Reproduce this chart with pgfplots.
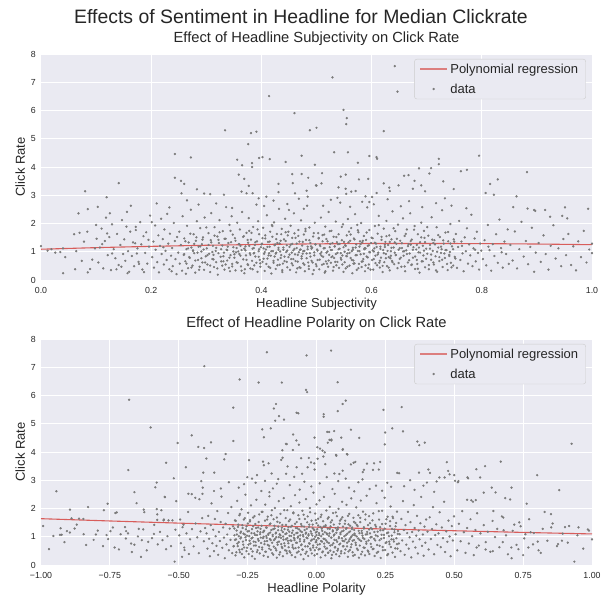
\documentclass[border=0pt]{standalone}
\usepackage{fontspec}
\setmainfont{Liberation Sans}
\usepackage{pgfplots}
\usepackage{pgfplotstable}
\pgfplotsset{compat=1.18}

\definecolor{sbbg}{HTML}{EAEAF2}
\definecolor{sbtext}{HTML}{262626}
\definecolor{ptgray}{HTML}{7A7A7A}
\definecolor{regred}{HTML}{D64541}
\definecolor{legdraw}{HTML}{CCCCCC}

% subjectivity vs click rate
\pgfplotstableread[row sep=\\]{
x y\\
0.529 7.17\\ 0.642 7.57\\ 0.414 6.51\\ 0.647 6.67\\ 0.460 5.91\\ 0.549 6.02\\ 0.555 5.73\\ 0.554 5.52\\
0.334 5.30\\ 0.381 5.20\\ 0.391 5.25\\ 0.488 5.30\\ 0.500 5.39\\ 0.622 5.27\\ 0.376 4.81\\ 0.356 4.26\\
0.365 4.06\\ 0.383 4.14\\ 0.383 4.00\\ 0.396 4.32\\ 0.402 4.35\\ 0.415 4.28\\ 0.444 4.18\\ 0.473 4.40\\
0.497 4.08\\ 0.532 4.52\\ 0.557 4.52\\ 0.575 4.15\\ 0.596 4.39\\ 0.609 4.35\\ 0.610 4.29\\ 0.686 3.95\\
0.708 3.96\\ 0.722 4.29\\ 0.722 4.10\\ 0.243 4.46\\ 0.272 4.34\\ 0.243 3.62\\ 0.254 3.51\\ 0.260 3.40\\
0.141 3.43\\ 0.080 3.14\\ 0.119 2.93\\ 0.283 3.21\\ 0.255 3.07\\ 0.296 3.06\\ 0.307 3.04\\ 0.332 3.02\\
0.359 3.73\\ 0.369 3.58\\ 0.377 3.33\\ 0.364 3.13\\ 0.373 3.07\\ 0.384 3.07\\ 0.395 2.89\\ 0.409 2.95\\
0.431 3.40\\ 0.431 3.11\\ 0.457 3.43\\ 0.461 3.07\\ 0.456 3.75\\ 0.473 3.75\\ 0.482 3.16\\ 0.485 3.62\\
0.499 3.35\\ 0.484 2.95\\ 0.795 4.40\\ 0.510 3.78\\ 0.544 3.66\\ 0.553 3.73\\ 0.500 3.34\\ 0.509 3.42\\
0.540 3.28\\ 0.553 3.23\\ 0.554 3.05\\ 0.563 3.13\\ 0.571 3.15\\ 0.577 3.56\\ 0.594 3.58\\ 0.589 2.96\\
0.596 2.76\\ 0.601 2.94\\ 0.609 3.08\\ 0.622 3.42\\ 0.632 3.27\\ 0.633 3.15\\ 0.649 3.35\\ 0.659 3.69\\
0.667 3.71\\ 0.675 3.23\\ 0.678 3.51\\ 0.690 3.35\\ 0.697 3.14\\ 0.705 3.77\\ 0.730 3.49\\ 0.733 2.89\\
0.749 3.22\\ 0.762 3.85\\ 0.773 3.90\\ 0.807 3.08\\ 0.815 3.40\\ 0.822 3.02\\ 0.829 3.56\\ 0.863 2.96\\
0.882 3.82\\ 0.883 2.53\\ 0.895 2.48\\ 0.897 2.45\\ 0.915 2.48\\ 0.924 2.24\\ 0.946 2.27\\ 0.951 2.57\\
0.955 2.18\\ 0.993 2.52\\ 0.857 2.58\\
0.318 2.71\\ 0.347 2.55\\ 0.405 2.62\\ 0.422 2.81\\ 0.447 2.69\\ 0.468 2.88\\ 0.512 2.63\\ 0.526 2.84\\
0.561 2.59\\ 0.583 2.77\\ 0.604 2.68\\ 0.629 2.86\\ 0.653 2.61\\ 0.668 2.79\\ 0.692 2.58\\ 0.717 2.72\\
0.745 2.63\\ 0.772 2.54\\ 0.286 2.67\\ 0.265 2.82\\ 0.233 2.57\\ 0.538 2.91\\ 0.477 2.52\\
0.000 1.20\\ 0.012 1.04\\ 0.019 1.09\\ 0.026 0.97\\ 0.035 0.99\\ 0.040 0.24\\ 0.044 0.81\\ 0.040 1.12\\
0.060 1.62\\ 0.062 0.38\\ 0.068 2.36\\ 0.070 1.67\\ 0.074 0.68\\ 0.078 1.36\\ 0.084 1.71\\ 0.085 0.27\\
0.085 2.51\\ 0.089 0.39\\ 0.098 1.12\\ 0.100 1.95\\ 0.101 1.46\\ 0.103 2.59\\ 0.064 1.02\\ 0.093 0.72\\
0.104 0.62\\ 0.107 1.15\\ 0.110 1.82\\ 0.113 0.41\\ 0.116 1.38\\ 0.118 2.21\\ 0.121 0.88\\ 0.124 1.52\\
0.127 0.35\\ 0.129 1.97\\ 0.132 1.09\\ 0.138 1.63\\ 0.141 0.53\\ 0.144 1.24\\ 0.147 2.12\\ 0.149 0.92\\
0.111 1.27\\ 0.120 1.65\\ 0.129 0.94\\ 0.135 0.77\\ 0.137 0.38\\ 0.146 0.47\\ 0.125 2.36\\
0.151 1.44\\ 0.153 0.68\\ 0.156 2.41\\ 0.158 1.02\\ 0.160 0.29\\ 0.162 1.71\\ 0.165 0.85\\ 0.167 1.33\\
0.169 0.49\\ 0.172 1.88\\ 0.175 1.12\\ 0.177 0.64\\ 0.180 2.05\\ 0.182 1.26\\ 0.184 0.37\\ 0.186 1.55\\
0.189 0.96\\ 0.191 1.69\\ 0.193 0.58\\ 0.196 1.18\\ 0.198 2.28\\ 0.157 0.24\\ 0.155 1.89\\ 0.171 1.30\\
0.174 0.94\\ 0.178 0.57\\ 0.187 0.28\\ 0.172 1.77\\ 0.195 1.42\\ 0.163 2.63\\
0.201 2.05\\ 0.210 2.71\\ 0.202 0.81\\ 0.204 1.36\\ 0.205 0.44\\ 0.207 1.93\\ 0.208 1.07\\ 0.211 0.63\\
0.213 1.58\\ 0.214 0.27\\ 0.216 1.21\\ 0.218 2.17\\ 0.219 0.92\\ 0.221 1.45\\ 0.223 0.55\\ 0.224 1.79\\
0.226 1.03\\ 0.228 0.71\\ 0.229 2.34\\ 0.231 1.29\\ 0.233 0.38\\ 0.234 1.64\\ 0.236 0.86\\ 0.238 1.13\\
0.239 0.49\\ 0.241 2.02\\ 0.243 1.38\\ 0.244 0.74\\ 0.246 0.21\\ 0.247 1.52\\ 0.249 0.97\\ 0.222 1.16\\
0.237 0.31\\
0.251 1.71\\ 0.252 0.58\\ 0.254 1.24\\ 0.256 0.33\\ 0.257 2.26\\ 0.259 0.89\\ 0.260 1.47\\ 0.262 0.66\\
0.264 1.09\\ 0.265 1.92\\ 0.267 0.42\\ 0.268 1.33\\ 0.270 0.78\\ 0.272 2.49\\ 0.273 1.15\\ 0.275 0.51\\
0.277 1.62\\ 0.278 0.95\\ 0.280 0.26\\ 0.281 1.39\\ 0.283 2.08\\ 0.285 0.71\\ 0.286 1.18\\ 0.288 0.47\\
0.289 1.84\\ 0.291 1.01\\ 0.293 0.62\\ 0.294 1.51\\ 0.296 0.36\\ 0.297 2.21\\ 0.299 0.84\\ 0.263 0.22\\
0.276 1.05\\ 0.292 1.27\\
0.301 1.12\\ 0.302 0.55\\ 0.304 1.66\\ 0.305 0.93\\ 0.307 0.28\\ 0.308 1.41\\ 0.309 2.37\\ 0.311 0.74\\
0.312 1.21\\ 0.314 0.46\\ 0.315 1.87\\ 0.317 1.03\\ 0.318 0.63\\ 0.320 1.54\\ 0.321 0.19\\ 0.323 1.31\\
0.324 2.12\\ 0.326 0.82\\ 0.327 1.09\\ 0.329 0.51\\ 0.330 1.73\\ 0.332 0.97\\ 0.333 0.37\\ 0.335 1.46\\
0.336 2.58\\ 0.338 0.69\\ 0.339 1.18\\ 0.341 0.43\\ 0.342 1.95\\ 0.344 0.88\\ 0.345 1.34\\ 0.347 0.57\\
0.348 1.61\\ 0.349 1.01\\ 0.313 0.89\\ 0.322 1.42\\ 0.331 0.66\\ 0.337 1.07\\ 0.343 0.31\\ 0.346 2.26\\
0.351 0.79\\ 0.352 1.48\\ 0.353 0.34\\ 0.355 1.13\\ 0.356 2.03\\ 0.357 0.61\\ 0.359 1.27\\ 0.360 0.92\\
0.361 1.79\\ 0.363 0.48\\ 0.364 1.06\\ 0.365 2.41\\ 0.367 0.73\\ 0.368 1.55\\ 0.369 0.24\\ 0.371 1.19\\
0.372 0.87\\ 0.373 1.67\\ 0.375 0.56\\ 0.376 1.32\\ 0.377 2.19\\ 0.379 0.95\\ 0.380 0.41\\ 0.381 1.43\\
0.383 0.68\\ 0.384 1.11\\ 0.385 1.88\\ 0.387 0.52\\ 0.388 1.24\\ 0.389 0.83\\ 0.391 2.67\\ 0.392 1.37\\
0.393 0.29\\ 0.395 1.02\\ 0.396 1.62\\ 0.397 0.71\\ 0.399 1.16\\ 0.354 0.98\\ 0.362 1.21\\ 0.370 0.38\\
0.378 1.74\\ 0.386 0.94\\ 0.394 2.08\\ 0.398 0.59\\
0.401 1.29\\ 0.402 0.64\\ 0.403 1.85\\ 0.405 0.93\\ 0.406 0.32\\ 0.407 1.47\\ 0.408 1.08\\ 0.410 2.29\\
0.411 0.76\\ 0.412 1.35\\ 0.413 0.47\\ 0.415 1.18\\ 0.416 1.71\\ 0.417 0.86\\ 0.418 0.23\\ 0.420 1.53\\
0.421 1.02\\ 0.422 0.61\\ 0.423 2.04\\ 0.425 1.26\\ 0.426 0.39\\ 0.427 0.97\\ 0.428 1.63\\ 0.430 0.72\\
0.431 1.14\\ 0.432 2.52\\ 0.433 0.54\\ 0.435 1.39\\ 0.436 0.88\\ 0.437 1.81\\ 0.438 0.28\\ 0.440 1.07\\
0.441 1.44\\ 0.442 0.67\\ 0.443 2.17\\ 0.445 0.99\\ 0.446 1.23\\ 0.447 0.45\\ 0.448 1.58\\ 0.449 0.81\\
0.404 1.12\\ 0.414 0.95\\ 0.424 0.83\\ 0.429 1.31\\ 0.434 1.01\\ 0.439 0.58\\ 0.444 1.69\\ 0.419 1.95\\
0.451 1.17\\ 0.452 0.36\\ 0.453 1.92\\ 0.454 0.74\\ 0.456 1.28\\ 0.457 0.52\\ 0.458 1.05\\ 0.459 2.36\\
0.461 0.91\\ 0.462 1.49\\ 0.463 0.27\\ 0.464 1.13\\ 0.466 0.65\\ 0.467 1.77\\ 0.468 0.98\\ 0.469 1.36\\
0.471 0.43\\ 0.472 2.11\\ 0.473 0.84\\ 0.474 1.22\\ 0.476 0.59\\ 0.477 1.61\\ 0.478 1.03\\ 0.479 0.31\\
0.481 1.42\\ 0.482 0.77\\ 0.483 2.63\\ 0.484 1.09\\ 0.486 0.49\\ 0.487 1.86\\ 0.488 0.95\\ 0.489 1.31\\
0.491 0.68\\ 0.492 1.15\\ 0.493 0.21\\ 0.494 1.54\\ 0.496 0.87\\ 0.497 2.03\\ 0.498 1.26\\ 0.499 0.56\\
0.455 0.97\\ 0.460 1.65\\ 0.465 0.41\\ 0.470 1.07\\ 0.475 0.93\\ 0.480 1.73\\ 0.485 0.62\\ 0.490 1.19\\
0.495 0.35\\ 0.450 2.48\\
0.501 1.08\\ 0.502 0.71\\ 0.503 1.66\\ 0.505 0.38\\ 0.506 1.24\\ 0.507 0.93\\ 0.508 2.21\\ 0.510 0.54\\
0.511 1.37\\ 0.512 0.82\\ 0.513 1.12\\ 0.515 0.26\\ 0.516 1.89\\ 0.517 0.66\\ 0.518 1.45\\ 0.520 1.01\\
0.521 0.47\\ 0.522 2.41\\ 0.523 0.89\\ 0.525 1.28\\ 0.526 0.61\\ 0.527 1.74\\ 0.528 1.06\\ 0.530 0.33\\
0.531 1.53\\ 0.532 0.78\\ 0.533 1.19\\ 0.535 2.07\\ 0.536 0.52\\ 0.537 1.34\\ 0.538 0.96\\ 0.540 1.62\\
0.541 0.43\\ 0.542 1.11\\ 0.543 2.74\\ 0.545 0.72\\ 0.546 1.41\\ 0.547 0.87\\ 0.548 1.97\\ 0.549 0.29\\
0.504 1.49\\ 0.509 0.99\\ 0.514 1.61\\ 0.519 0.58\\ 0.524 1.16\\ 0.529 0.84\\ 0.534 0.64\\ 0.539 1.27\\
0.544 0.95\\ 0.550 1.35\\
0.551 0.63\\ 0.552 1.23\\ 0.553 0.41\\ 0.555 1.58\\ 0.556 0.94\\ 0.557 2.16\\ 0.558 1.07\\ 0.560 0.51\\
0.561 1.39\\ 0.562 0.78\\ 0.563 1.84\\ 0.565 0.24\\ 0.566 1.14\\ 0.567 0.69\\ 0.568 1.47\\ 0.570 2.33\\
0.571 0.88\\ 0.572 1.26\\ 0.573 0.36\\ 0.575 1.03\\ 0.576 1.69\\ 0.577 0.57\\ 0.578 1.18\\ 0.580 0.91\\
0.581 2.02\\ 0.582 0.46\\ 0.583 1.33\\ 0.585 0.74\\ 0.586 1.56\\ 0.587 1.09\\ 0.588 0.31\\ 0.590 1.42\\
0.591 0.83\\ 0.592 2.57\\ 0.593 1.21\\ 0.595 0.55\\ 0.596 1.77\\ 0.597 0.98\\ 0.599 1.31\\ 0.554 0.85\\
0.559 1.71\\ 0.564 1.02\\ 0.569 0.59\\ 0.574 1.95\\ 0.579 1.37\\ 0.584 0.66\\ 0.589 1.12\\ 0.594 0.42\\
0.601 0.71\\ 0.602 1.48\\ 0.603 0.37\\ 0.605 1.12\\ 0.606 1.91\\ 0.607 0.86\\ 0.608 1.29\\ 0.610 0.52\\
0.611 1.64\\ 0.612 0.97\\ 0.613 2.27\\ 0.615 0.44\\ 0.616 1.18\\ 0.617 0.79\\ 0.618 1.53\\ 0.620 0.28\\
0.621 1.06\\ 0.622 1.82\\ 0.623 0.63\\ 0.625 1.35\\ 0.626 0.92\\ 0.627 2.09\\ 0.628 0.49\\ 0.630 1.24\\
0.631 0.81\\ 0.632 1.58\\ 0.633 0.34\\ 0.635 1.02\\ 0.636 1.44\\ 0.637 0.68\\ 0.638 2.43\\ 0.640 1.15\\
0.641 0.56\\ 0.643 1.73\\ 0.644 0.89\\ 0.645 1.28\\ 0.647 0.42\\ 0.648 1.96\\ 0.649 1.07\\ 0.604 1.01\\
0.614 0.61\\ 0.624 1.17\\ 0.634 0.77\\ 0.642 1.33\\
0.651 0.75\\ 0.652 1.39\\ 0.654 0.47\\ 0.655 1.13\\ 0.657 2.18\\ 0.658 0.86\\ 0.660 1.56\\ 0.661 0.31\\
0.663 1.05\\ 0.664 1.79\\ 0.666 0.62\\ 0.667 1.27\\ 0.669 0.94\\ 0.670 2.36\\ 0.672 0.53\\ 0.673 1.43\\
0.675 0.79\\ 0.676 1.16\\ 0.678 1.91\\ 0.679 0.39\\ 0.681 1.08\\ 0.682 0.71\\ 0.684 1.62\\ 0.685 0.98\\
0.687 0.26\\ 0.688 1.34\\ 0.690 2.03\\ 0.691 0.66\\ 0.693 1.21\\ 0.694 0.87\\ 0.696 1.49\\ 0.697 0.45\\
0.699 1.11\\ 0.659 1.02\\ 0.671 1.25\\ 0.683 0.57\\ 0.695 1.74\\
0.701 0.93\\ 0.703 1.57\\ 0.704 0.38\\ 0.706 1.24\\ 0.708 0.72\\ 0.709 2.22\\ 0.711 1.03\\ 0.713 0.55\\
0.714 1.41\\ 0.716 0.84\\ 0.718 1.87\\ 0.719 0.29\\ 0.721 1.15\\ 0.723 0.67\\ 0.724 1.52\\ 0.726 0.96\\
0.728 2.47\\ 0.729 0.46\\ 0.731 1.29\\ 0.733 0.78\\ 0.734 1.68\\ 0.736 1.06\\ 0.738 0.35\\ 0.739 1.37\\
0.741 0.89\\ 0.743 1.98\\ 0.744 0.61\\ 0.746 1.19\\ 0.748 0.51\\ 0.749 1.44\\ 0.712 1.31\\ 0.727 1.09\\
0.742 0.99\\
0.751 0.82\\ 0.753 1.63\\ 0.755 0.43\\ 0.757 1.17\\ 0.759 2.09\\ 0.761 0.71\\ 0.763 1.36\\ 0.765 0.94\\
0.767 0.31\\ 0.769 1.51\\ 0.771 1.02\\ 0.773 1.83\\ 0.775 0.58\\ 0.777 1.26\\ 0.779 0.87\\ 0.781 2.31\\
0.783 0.49\\ 0.785 1.12\\ 0.787 1.47\\ 0.789 0.66\\ 0.791 1.71\\ 0.793 0.96\\ 0.795 0.37\\ 0.797 1.29\\
0.799 1.04\\ 0.764 1.21\\ 0.788 1.07\\
0.802 0.74\\ 0.805 1.41\\ 0.808 0.52\\ 0.811 1.95\\ 0.814 1.06\\ 0.817 0.33\\ 0.820 1.27\\ 0.823 0.85\\
0.826 1.62\\ 0.829 0.61\\ 0.832 2.14\\ 0.835 1.13\\ 0.838 0.44\\ 0.841 1.36\\ 0.844 0.92\\ 0.847 1.79\\
0.849 0.57\\ 0.812 1.18\\ 0.836 0.98\\
0.852 1.24\\ 0.856 0.69\\ 0.860 1.72\\ 0.864 0.41\\ 0.868 1.09\\ 0.872 2.06\\ 0.876 0.83\\ 0.880 1.38\\
0.884 0.56\\ 0.888 1.17\\ 0.891 1.85\\ 0.895 0.29\\ 0.898 0.97\\
0.903 1.31\\ 0.907 0.64\\ 0.912 1.58\\ 0.916 0.92\\ 0.921 0.37\\ 0.925 1.21\\ 0.930 1.94\\ 0.934 0.76\\
0.939 1.12\\ 0.944 0.49\\ 0.948 1.45\\ 0.953 0.88\\ 0.957 1.63\\ 0.962 0.53\\ 0.966 1.19\\ 0.971 0.34\\
0.975 1.37\\ 0.980 0.81\\ 0.985 1.74\\ 0.990 0.62\\ 0.995 1.08\\ 1.000 1.29\\ 1.000 0.95\\
}\subjdata

% denser core of the subjectivity cloud
\pgfplotstableread[row sep=\\]{
x y\\
0.260 0.92\\ 0.262 1.37\\ 0.264 0.58\\ 0.267 1.12\\ 0.269 0.81\\ 0.271 1.64\\ 0.273 0.44\\ 0.276 1.03\\
0.278 1.28\\ 0.280 0.69\\ 0.282 1.51\\ 0.284 0.97\\ 0.287 0.36\\ 0.289 1.19\\ 0.291 0.77\\ 0.293 1.43\\
0.295 1.08\\ 0.298 0.62\\ 0.300 1.86\\ 0.302 0.88\\ 0.304 1.24\\ 0.307 0.51\\ 0.309 1.33\\ 0.311 0.99\\
0.313 0.73\\ 0.315 1.57\\ 0.318 1.14\\ 0.320 0.41\\ 0.322 0.95\\ 0.324 1.69\\ 0.327 0.66\\ 0.329 1.22\\
0.331 0.84\\ 0.333 1.46\\ 0.335 0.55\\ 0.338 1.06\\ 0.340 1.31\\ 0.342 0.79\\ 0.344 1.74\\ 0.347 0.48\\
0.349 1.16\\ 0.351 0.91\\ 0.353 1.39\\ 0.355 0.63\\ 0.358 1.01\\ 0.360 1.27\\ 0.362 0.86\\ 0.364 0.33\\
0.367 1.53\\ 0.369 1.11\\
0.371 1.05\\ 0.373 0.71\\ 0.375 1.42\\ 0.376 0.53\\ 0.378 1.21\\ 0.380 0.89\\ 0.382 1.67\\ 0.384 0.38\\
0.386 1.13\\ 0.387 0.96\\ 0.389 1.34\\ 0.391 0.61\\ 0.393 1.79\\ 0.395 0.82\\ 0.396 1.09\\ 0.398 0.47\\
0.400 1.26\\ 0.402 1.48\\ 0.404 0.75\\ 0.406 0.99\\ 0.407 1.58\\ 0.409 0.57\\ 0.411 1.17\\ 0.413 0.87\\
0.415 1.36\\ 0.416 0.43\\ 0.418 1.02\\ 0.420 1.91\\ 0.422 0.68\\ 0.424 1.23\\ 0.426 0.93\\ 0.427 1.45\\
0.429 0.52\\ 0.431 1.07\\ 0.433 1.29\\ 0.435 0.78\\ 0.436 1.62\\ 0.438 0.35\\ 0.440 1.15\\ 0.442 0.83\\
0.444 1.38\\ 0.446 0.64\\ 0.447 1.04\\ 0.449 1.71\\ 0.451 0.90\\ 0.453 1.25\\ 0.455 0.59\\ 0.456 1.49\\
0.458 0.74\\ 0.460 1.10\\
0.462 0.67\\ 0.464 1.29\\ 0.466 0.89\\ 0.467 1.56\\ 0.469 0.45\\ 0.471 1.08\\ 0.473 0.76\\ 0.475 1.35\\
0.476 1.02\\ 0.478 0.54\\ 0.480 1.81\\ 0.482 0.94\\ 0.484 1.18\\ 0.486 0.39\\ 0.487 1.41\\ 0.489 0.83\\
0.491 1.11\\ 0.493 0.62\\ 0.495 1.66\\ 0.496 0.98\\ 0.498 1.26\\ 0.500 0.49\\ 0.502 1.04\\ 0.504 1.47\\
0.506 0.72\\ 0.507 1.20\\ 0.509 0.86\\ 0.511 1.59\\ 0.513 0.57\\ 0.515 1.13\\ 0.516 0.31\\ 0.518 0.97\\
0.520 1.37\\ 0.522 0.69\\ 0.524 1.73\\ 0.526 1.06\\ 0.527 0.81\\ 0.529 1.31\\ 0.531 0.46\\ 0.533 1.19\\
0.535 0.92\\ 0.536 1.52\\ 0.538 0.64\\ 0.540 1.09\\ 0.542 1.28\\ 0.544 0.78\\ 0.546 1.88\\ 0.547 0.55\\
0.549 1.16\\ 0.551 1.00\\
0.553 1.21\\ 0.555 0.84\\ 0.556 0.47\\ 0.558 1.33\\ 0.560 0.96\\ 0.562 1.61\\ 0.564 0.71\\ 0.566 1.07\\
0.567 0.58\\ 0.569 1.44\\ 0.571 1.15\\ 0.573 0.88\\ 0.575 1.76\\ 0.576 0.42\\ 0.578 1.02\\ 0.580 1.27\\
0.582 0.65\\ 0.584 1.39\\ 0.586 0.93\\ 0.587 1.12\\ 0.589 0.52\\ 0.591 1.68\\ 0.593 0.80\\ 0.595 1.23\\
0.596 0.99\\ 0.598 0.37\\ 0.600 1.50\\ 0.602 1.05\\ 0.604 0.74\\ 0.606 1.32\\ 0.607 0.60\\ 0.609 1.17\\
0.611 0.90\\ 0.613 1.94\\ 0.615 0.68\\ 0.616 1.10\\ 0.618 1.42\\ 0.620 0.50\\ 0.622 0.95\\ 0.624 1.25\\
0.626 0.77\\ 0.627 1.55\\ 0.629 1.03\\ 0.631 0.44\\ 0.633 1.35\\ 0.635 0.86\\ 0.636 1.14\\ 0.638 0.63\\
0.640 1.83\\ 0.642 0.97\\
0.644 0.88\\ 0.646 1.46\\ 0.649 0.60\\ 0.651 1.13\\ 0.653 0.79\\ 0.655 1.30\\ 0.657 1.01\\ 0.660 0.48\\
0.662 1.63\\ 0.664 0.92\\ 0.666 1.20\\ 0.668 0.70\\ 0.671 1.38\\ 0.673 0.55\\ 0.675 1.07\\ 0.677 1.78\\
0.679 0.83\\ 0.682 1.24\\ 0.684 0.40\\ 0.686 1.15\\ 0.688 0.97\\ 0.690 1.51\\ 0.693 0.66\\ 0.695 1.04\\
0.697 1.34\\ 0.699 0.75\\ 0.701 1.87\\ 0.704 0.53\\ 0.706 1.11\\ 0.708 0.90\\ 0.710 1.43\\ 0.712 0.62\\
0.715 1.26\\ 0.717 0.34\\ 0.719 1.00\\ 0.721 1.59\\ 0.723 0.81\\ 0.726 1.18\\ 0.728 0.72\\ 0.730 1.40\\
0.732 0.94\\ 0.734 1.06\\ 0.737 0.57\\ 0.739 1.70\\ 0.741 0.85\\ 0.743 1.29\\ 0.745 0.45\\ 0.748 1.09\\
0.750 1.36\\ 0.752 0.76\\
}\subjcore

\pgfplotstableread[row sep=\\]{
x y\\
0.0 1.090\\ 0.1 1.146\\ 0.2 1.192\\ 0.3 1.230\\ 0.4 1.260\\ 0.5 1.280\\ 0.6 1.292\\ 0.7 1.294\\
0.8 1.288\\ 0.9 1.274\\ 1.0 1.250\\
}\subjfit

% polarity vs click rate
\pgfplotstableread[row sep=\\]{
x y\\
0.053 7.59\\ -0.180 7.53\\ -0.036 7.42\\ -0.407 7.04\\ -0.279 6.57\\ -0.210 6.46\\ -0.126 6.46\\ 0.077 6.47\\
-0.038 6.20\\ -0.034 6.12\\ -0.302 5.57\\ -0.147 5.70\\ -0.155 5.54\\ -0.136 5.27\\ -0.150 5.11\\ -0.118 5.15\\
-0.072 5.39\\ -0.066 5.37\\ 0.026 5.34\\ 0.026 5.25\\ 0.077 5.45\\ 0.095 5.70\\ 0.106 5.82\\ 0.243 5.49\\
0.309 5.59\\ -0.197 4.80\\ -0.166 4.84\\ -0.191 4.52\\ -0.085 4.62\\ -0.073 4.41\\ -0.064 4.26\\ -0.111 4.29\\
-0.086 4.07\\ -0.007 4.51\\ 0.039 4.71\\ 0.046 4.71\\ 0.064 4.74\\ 0.041 4.33\\ 0.054 4.41\\ 0.090 4.51\\
0.125 4.79\\ 0.155 4.50\\ 0.003 4.17\\ 0.013 4.12\\ 0.022 4.05\\ 0.030 3.99\\ 0.095 4.08\\ 0.110 3.93\\
0.071 3.90\\ 0.249 4.69\\ 0.248 4.27\\ 0.275 4.84\\ 0.314 4.73\\ 0.366 4.37\\ 0.373 4.24\\ 0.393 4.33\\
-0.383 4.34\\ -0.408 4.14\\ -0.302 4.39\\ -0.330 3.93\\ -0.680 5.85\\ -0.602 4.87\\ -0.504 4.32\\ -0.453 4.59\\
-0.429 4.18\\ -0.546 3.62\\ -0.474 3.46\\ -0.683 3.36\\ -0.518 3.07\\ -0.580 2.92\\ -0.585 2.75\\ -0.944 2.61\\
-0.661 2.58\\ -0.551 2.41\\ -0.653 2.19\\ -0.758 2.17\\ -0.829 2.05\\ -0.895 1.96\\ -0.772 1.94\\ -0.730 1.84\\
-0.580 1.98\\ -0.563 1.94\\ -0.578 1.79\\ -0.555 1.58\\ -0.625 1.87\\ -0.465 2.52\\ -0.453 2.51\\
-0.335 3.74\\ -0.400 3.77\\ -0.418 2.97\\ -0.413 2.74\\ -0.414 2.52\\ -0.440 2.38\\ -0.425 2.33\\ -0.509 2.26\\
-0.550 2.40\\ -0.627 1.96\\ -0.725 1.86\\ -0.889 1.65\\ -0.862 1.64\\ -0.846 1.63\\ -0.870 1.43\\ -0.929 1.30\\
-0.925 1.07\\ -0.931 1.07\\ -0.906 1.20\\ -0.895 1.15\\ -0.845 1.09\\ -0.794 1.22\\ -0.809 0.89\\ -0.775 0.67\\
-0.762 1.06\\ -0.748 1.20\\ -0.733 0.62\\ -0.711 1.09\\ -0.695 1.34\\ -0.691 1.20\\ -0.673 0.76\\ -0.670 0.46\\
-0.645 1.28\\ -0.629 1.26\\ -0.637 0.29\\ -0.616 0.52\\ -0.611 0.82\\ -0.590 1.10\\ -0.578 1.60\\ -0.554 1.61\\
-0.546 0.56\\ -0.537 1.58\\ -0.523 1.58\\ -0.515 0.12\\ -0.495 1.61\\ -0.483 1.43\\ -0.480 0.62\\ -0.488 0.29\\
-0.463 0.39\\ -0.971 0.56\\ -0.992 1.38\\ -0.371 3.27\\ -0.411 3.27\\
-0.245 3.71\\ -0.234 3.06\\ -0.194 3.66\\ -0.191 3.53\\ -0.174 3.60\\ -0.128 3.72\\ -0.123 3.80\\ -0.124 4.06\\
-0.108 4.28\\ -0.056 3.78\\ -0.028 3.79\\ -0.008 3.60\\ 0.004 3.76\\ -0.032 3.46\\ -0.072 3.46\\ -0.105 3.49\\
-0.052 3.23\\ -0.110 3.23\\ -0.163 3.24\\ -0.187 2.98\\ -0.221 2.91\\ -0.251 3.11\\ -0.200 2.62\\ -0.171 2.58\\
-0.144 2.88\\
0.473 3.64\\ 0.580 3.39\\ 0.612 3.50\\ 0.669 3.66\\ 0.801 3.18\\ 0.926 4.29\\ 0.881 2.65\\ 0.500 3.18\\
0.513 2.93\\ 0.548 3.10\\ 0.594 3.10\\ 0.607 2.56\\ 0.636 2.74\\ 0.650 2.57\\ 0.708 2.74\\ 0.685 2.37\\
0.703 2.32\\ 0.763 2.17\\ 0.828 1.88\\ 0.851 1.80\\ 0.852 1.33\\ 0.902 1.34\\ 0.917 1.38\\ 0.951 1.33\\
0.989 1.22\\ 0.642 1.91\\ 0.678 1.68\\ 0.718 1.43\\ 0.736 1.51\\ 0.679 1.23\\ 0.758 1.09\\ 0.777 1.16\\
0.676 0.81\\ 0.707 0.62\\ 0.733 0.56\\ 0.769 0.62\\ 0.786 0.73\\ 0.803 0.83\\ 0.814 0.43\\ 0.877 0.74\\
0.891 0.86\\ 0.936 0.12\\ 0.708 0.24\\ 0.750 0.35\\ 0.640 0.49\\ 0.614 0.55\\ 0.581 0.62\\
0.047 4.43\\ 0.054 4.44\\ 0.072 3.87\\ 0.096 4.10\\ 0.112 3.91\\ 0.125 3.56\\ 0.135 3.62\\ 0.141 3.65\\
0.183 3.59\\ 0.209 3.60\\ 0.231 3.65\\ 0.226 3.38\\ 0.205 3.37\\ 0.168 3.29\\ 0.172 3.37\\ 0.095 3.34\\
0.083 3.22\\ 0.065 3.24\\ 0.032 3.57\\ -0.020 3.63\\ -0.007 3.38\\ 0.025 3.84\\
0.293 3.26\\ 0.300 3.25\\ 0.372 3.27\\ 0.406 3.38\\ 0.412 3.26\\ 0.436 2.96\\ 0.446 3.10\\ 0.465 3.10\\
0.478 3.33\\ 0.483 3.21\\ 0.503 2.98\\ 0.515 2.97\\ 0.550 3.07\\ 0.547 2.31\\ 0.578 2.30\\ 0.568 2.24\\
0.562 2.29\\ 0.401 2.92\\ 0.318 2.79\\ 0.340 3.00\\ 0.257 2.91\\ 0.216 2.81\\ 0.167 3.03\\ 0.152 2.93\\
0.106 3.06\\
-0.282 2.74\\ -0.263 2.86\\ -0.216 3.18\\ -0.158 2.71\\ -0.139 3.04\\ -0.097 2.83\\ -0.081 3.12\\ -0.061 2.67\\
-0.044 2.95\\ -0.019 2.78\\ 0.012 2.89\\ 0.037 3.11\\ 0.058 2.69\\ 0.079 2.97\\ 0.118 2.74\\ 0.137 2.61\\
0.193 2.69\\ 0.238 2.63\\ 0.271 2.77\\ 0.356 2.66\\ 0.388 2.81\\ 0.427 2.59\\ -0.347 2.71\\ -0.318 2.93\\
-0.372 2.62\\
-0.955 1.03\\ -0.915 0.81\\ -0.878 1.29\\ -0.836 0.71\\ -0.801 1.08\\ -0.756 0.92\\ -0.739 1.33\\ -0.717 0.55\\
-0.692 0.94\\ -0.684 1.12\\ -0.661 0.72\\ -0.648 1.01\\ -0.634 0.88\\
-0.597 0.95\\ -0.589 1.42\\ -0.576 0.73\\ -0.568 1.17\\ -0.559 0.88\\ -0.541 1.02\\ -0.528 0.67\\ -0.512 1.25\\
-0.498 1.05\\ -0.492 0.77\\ -0.486 1.34\\ -0.479 0.53\\ -0.472 1.12\\ -0.466 1.88\\ -0.459 0.91\\ -0.452 1.27\\
-0.446 0.66\\ -0.439 1.47\\ -0.433 0.98\\ -0.427 0.42\\ -0.421 1.19\\ -0.415 1.66\\ -0.409 0.84\\ -0.404 1.31\\
-0.399 1.12\\ -0.396 0.58\\ -0.393 1.74\\ -0.390 0.93\\ -0.387 0.31\\ -0.384 1.41\\ -0.381 2.18\\ -0.378 0.77\\
-0.375 1.25\\ -0.372 0.49\\ -0.369 1.63\\ -0.366 1.02\\ -0.363 0.68\\ -0.360 1.91\\ -0.357 0.36\\ -0.354 1.17\\
-0.351 0.85\\ -0.348 1.52\\ -0.345 2.42\\ -0.342 0.61\\ -0.339 1.33\\ -0.336 0.97\\ -0.333 0.24\\ -0.330 1.46\\
-0.327 0.73\\ -0.324 1.08\\ -0.321 1.84\\ -0.318 0.52\\ -0.315 1.29\\ -0.312 0.89\\ -0.309 2.05\\ -0.306 0.42\\
-0.303 1.37\\ -0.301 0.66\\
-0.298 1.05\\ -0.296 1.58\\ -0.294 0.34\\ -0.292 0.91\\ -0.290 1.22\\ -0.288 2.27\\ -0.286 0.67\\ -0.284 1.43\\
-0.282 0.81\\ -0.280 1.76\\ -0.278 0.45\\ -0.276 1.14\\ -0.274 0.98\\ -0.272 1.97\\ -0.270 0.56\\ -0.268 1.31\\
-0.266 0.72\\ -0.264 1.61\\ -0.262 0.27\\ -0.260 1.08\\ -0.258 2.49\\ -0.256 0.88\\ -0.254 1.37\\ -0.252 0.61\\
-0.250 1.19\\ -0.248 1.85\\ -0.246 0.39\\ -0.244 1.02\\ -0.242 1.54\\ -0.240 0.76\\ -0.238 2.11\\ -0.236 0.94\\
-0.234 1.27\\ -0.232 0.48\\ -0.230 1.68\\ -0.228 0.83\\ -0.226 1.12\\ -0.224 0.22\\ -0.222 1.45\\ -0.220 0.69\\
-0.218 2.31\\ -0.216 1.06\\ -0.214 0.53\\ -0.212 1.33\\ -0.210 0.86\\ -0.208 1.79\\ -0.206 0.41\\ -0.204 1.16\\
-0.202 0.97\\
-0.199 1.39\\ -0.197 0.62\\ -0.196 1.88\\ -0.194 0.95\\ -0.192 0.33\\ -0.191 1.21\\ -0.189 0.74\\ -0.187 1.57\\
-0.186 2.14\\ -0.184 0.47\\ -0.182 1.03\\ -0.181 1.32\\ -0.179 0.85\\ -0.177 1.71\\ -0.176 0.29\\ -0.174 1.11\\
-0.172 0.68\\ -0.171 2.43\\ -0.169 0.92\\ -0.167 1.47\\ -0.166 0.54\\ -0.164 1.24\\ -0.162 1.94\\ -0.161 0.79\\
-0.159 1.07\\ -0.157 0.37\\ -0.156 1.62\\ -0.154 0.88\\ -0.152 1.29\\ -0.151 2.02\\ -0.149 0.59\\ -0.147 1.15\\
-0.146 0.99\\ -0.144 0.26\\ -0.142 1.53\\ -0.141 0.72\\ -0.139 1.36\\ -0.137 2.26\\ -0.136 0.83\\ -0.134 1.09\\
-0.132 0.45\\ -0.131 1.81\\ -0.129 0.96\\ -0.127 1.23\\ -0.126 0.64\\ -0.124 1.42\\ -0.122 0.31\\ -0.121 1.01\\
-0.119 2.37\\ -0.117 0.77\\ -0.116 1.27\\ -0.114 0.52\\ -0.112 1.66\\ -0.111 0.91\\ -0.109 1.12\\ -0.107 0.41\\
-0.106 1.94\\ -0.104 0.86\\ -0.102 1.34\\ -0.101 0.63\\
-0.099 1.18\\ -0.098 0.49\\ -0.096 1.61\\ -0.095 0.87\\ -0.093 2.08\\ -0.092 1.03\\ -0.090 0.35\\ -0.089 1.39\\
-0.087 0.71\\ -0.086 1.22\\ -0.084 1.86\\ -0.083 0.58\\ -0.081 1.07\\ -0.080 0.93\\ -0.078 2.47\\ -0.077 0.28\\
-0.075 1.31\\ -0.074 0.79\\ -0.072 1.52\\ -0.071 0.44\\ -0.069 1.14\\ -0.068 0.97\\ -0.066 1.76\\ -0.065 0.62\\
-0.063 1.26\\ -0.062 2.21\\ -0.060 0.84\\ -0.059 1.05\\ -0.057 0.37\\ -0.056 1.45\\ -0.054 0.73\\ -0.053 1.17\\
-0.051 1.92\\ -0.050 0.54\\ -0.048 1.01\\ -0.047 0.21\\ -0.045 1.36\\ -0.044 0.89\\ -0.042 1.63\\ -0.041 0.66\\
-0.039 1.11\\ -0.038 2.33\\ -0.036 0.47\\ -0.035 1.28\\ -0.033 0.95\\ -0.032 1.72\\ -0.030 0.32\\ -0.029 1.09\\
-0.027 0.77\\ -0.026 1.43\\ -0.024 2.02\\ -0.023 0.58\\ -0.021 1.19\\ -0.020 0.86\\ -0.018 1.57\\ -0.017 0.41\\
-0.015 1.04\\ -0.014 1.31\\ -0.012 0.69\\ -0.011 2.56\\ -0.009 0.92\\ -0.008 1.24\\ -0.006 0.52\\ -0.005 1.82\\
-0.003 0.81\\ -0.002 1.15\\
0.000 1.06\\ 0.000 0.62\\ 0.000 1.48\\ 0.000 0.88\\ 0.000 2.15\\ 0.002 0.39\\ 0.003 1.27\\ 0.005 0.96\\
0.006 1.64\\ 0.008 0.55\\ 0.009 1.13\\ 0.011 2.29\\ 0.012 0.74\\ 0.014 1.35\\ 0.015 0.27\\ 0.017 1.02\\
0.018 1.78\\ 0.020 0.83\\ 0.021 1.21\\ 0.023 0.48\\ 0.024 1.55\\ 0.026 0.93\\ 0.027 2.41\\ 0.029 0.65\\
0.030 1.16\\ 0.032 0.34\\ 0.033 1.41\\ 0.035 0.87\\ 0.036 1.93\\ 0.038 0.59\\ 0.039 1.08\\ 0.041 1.29\\
0.042 0.43\\ 0.044 1.69\\ 0.045 0.78\\ 0.047 1.12\\ 0.048 2.06\\ 0.050 0.51\\ 0.051 1.37\\ 0.053 0.97\\
0.054 0.24\\ 0.056 1.58\\ 0.057 0.71\\ 0.059 1.23\\ 0.060 1.84\\ 0.062 0.46\\ 0.063 1.04\\ 0.065 0.89\\
0.066 2.52\\ 0.068 0.63\\ 0.069 1.31\\ 0.071 0.38\\ 0.072 1.14\\ 0.074 1.73\\ 0.075 0.82\\ 0.077 1.27\\
0.078 0.57\\ 0.080 1.99\\ 0.081 0.95\\ 0.083 0.31\\ 0.084 1.46\\ 0.086 0.76\\ 0.087 1.09\\ 0.089 1.62\\
0.090 0.49\\ 0.092 1.19\\ 0.093 2.24\\ 0.095 0.86\\ 0.096 1.36\\ 0.098 0.67\\
0.101 1.02\\ 0.102 0.42\\ 0.104 1.57\\ 0.106 0.91\\ 0.107 1.28\\ 0.109 2.13\\ 0.111 0.66\\ 0.112 1.11\\
0.114 0.29\\ 0.116 1.44\\ 0.117 0.84\\ 0.119 1.81\\ 0.121 0.53\\ 0.122 1.19\\ 0.124 0.97\\ 0.126 2.36\\
0.127 0.73\\ 0.129 1.33\\ 0.131 0.45\\ 0.132 1.06\\ 0.134 1.67\\ 0.136 0.88\\ 0.137 1.24\\ 0.139 0.36\\
0.141 1.49\\ 0.142 0.79\\ 0.144 2.04\\ 0.146 1.01\\ 0.147 0.58\\ 0.149 1.38\\ 0.151 0.94\\ 0.152 1.76\\
0.154 0.26\\ 0.156 1.13\\ 0.157 0.69\\ 0.159 1.52\\ 0.161 2.28\\ 0.162 0.85\\ 0.164 1.21\\ 0.166 0.47\\
0.167 1.04\\ 0.169 1.89\\ 0.171 0.62\\ 0.172 1.29\\ 0.174 0.92\\ 0.176 0.34\\ 0.177 1.61\\ 0.179 1.08\\
0.181 0.75\\ 0.182 2.45\\ 0.184 1.17\\ 0.186 0.51\\ 0.187 1.41\\ 0.189 0.87\\ 0.191 1.73\\ 0.192 0.39\\
0.194 1.12\\ 0.196 0.98\\ 0.197 1.31\\ 0.199 0.64\\
0.202 1.27\\ 0.204 0.56\\ 0.206 1.83\\ 0.209 0.93\\ 0.211 0.32\\ 0.213 1.42\\ 0.215 1.05\\ 0.218 2.19\\
0.220 0.71\\ 0.222 1.18\\ 0.224 0.47\\ 0.227 1.61\\ 0.229 0.88\\ 0.231 1.34\\ 0.233 0.25\\ 0.236 1.07\\
0.238 1.92\\ 0.240 0.64\\ 0.242 1.23\\ 0.245 0.96\\ 0.247 2.38\\ 0.249 0.53\\ 0.251 1.46\\ 0.254 0.81\\
0.256 1.13\\ 0.258 1.71\\ 0.260 0.39\\ 0.263 1.02\\ 0.265 0.74\\ 0.267 1.55\\ 0.269 2.07\\ 0.272 0.91\\
0.274 1.28\\ 0.276 0.44\\ 0.278 1.66\\ 0.281 0.83\\ 0.283 1.16\\ 0.285 0.29\\ 0.287 1.37\\ 0.290 0.95\\
0.292 1.89\\ 0.294 0.58\\ 0.296 1.21\\ 0.299 0.76\\
0.302 1.09\\ 0.305 0.49\\ 0.308 1.63\\ 0.311 0.87\\ 0.314 2.26\\ 0.317 1.24\\ 0.320 0.36\\ 0.323 1.41\\
0.326 0.72\\ 0.329 1.13\\ 0.332 1.88\\ 0.335 0.58\\ 0.338 0.98\\ 0.341 1.52\\ 0.344 0.27\\ 0.347 1.17\\
0.350 0.83\\ 0.353 2.12\\ 0.356 1.31\\ 0.359 0.62\\ 0.362 1.04\\ 0.365 1.74\\ 0.368 0.41\\ 0.371 1.22\\
0.374 0.91\\ 0.377 1.48\\ 0.380 2.41\\ 0.383 0.68\\ 0.386 1.08\\ 0.389 0.33\\ 0.392 1.36\\ 0.395 0.79\\
0.398 1.61\\
0.403 1.18\\ 0.407 0.55\\ 0.411 1.69\\ 0.415 0.92\\ 0.419 1.27\\ 0.423 2.05\\ 0.427 0.38\\ 0.431 1.06\\
0.435 1.44\\ 0.439 0.71\\ 0.443 1.12\\ 0.447 1.87\\ 0.451 0.63\\ 0.455 1.33\\ 0.459 0.95\\ 0.463 2.24\\
0.467 0.46\\ 0.471 1.19\\ 0.475 0.82\\ 0.479 1.57\\ 0.483 1.01\\ 0.487 0.31\\ 0.491 1.38\\ 0.495 0.87\\
0.499 1.72\\
0.505 1.09\\ 0.511 0.52\\ 0.517 1.46\\ 0.523 0.84\\ 0.529 1.91\\ 0.535 1.16\\ 0.541 0.43\\ 0.547 1.31\\
0.553 0.76\\ 0.559 1.62\\ 0.565 1.02\\ 0.571 0.35\\ 0.577 1.24\\ 0.583 1.83\\ 0.589 0.69\\ 0.595 1.12\\
0.607 1.41\\ 0.614 0.81\\ 0.622 1.18\\ 0.631 0.47\\ 0.639 1.56\\ 0.648 0.99\\ 0.656 1.28\\ 0.664 0.63\\
0.673 1.72\\ 0.688 1.05\\ 0.695 0.38\\
0.712 1.21\\ 0.726 0.71\\ 0.741 1.37\\ 0.754 0.94\\ 0.772 1.62\\ 0.789 1.13\\ 0.806 0.52\\ 0.821 1.28\\
0.838 0.86\\ 0.857 1.47\\ 0.873 0.67\\ 0.894 1.11\\ 0.912 0.79\\ 0.947 1.05\\ 0.968 0.58\\ 0.985 1.26\\
1.000 0.91\\
}\poldata

% denser core of the polarity cloud
\pgfplotstableread[row sep=\\]{
x y\\
-0.300 0.67\\ -0.298 1.29\\ -0.296 0.89\\ -0.293 1.56\\ -0.291 0.45\\ -0.289 1.08\\ -0.287 0.76\\ -0.285 1.35\\
-0.282 1.02\\ -0.280 0.54\\ -0.278 1.81\\ -0.276 0.94\\ -0.274 1.18\\ -0.271 0.39\\ -0.269 1.41\\ -0.267 0.83\\
-0.265 1.11\\ -0.263 0.62\\ -0.260 1.66\\ -0.258 0.98\\ -0.256 1.26\\ -0.254 0.49\\ -0.252 1.04\\ -0.249 1.47\\
-0.247 0.72\\ -0.245 1.20\\ -0.243 0.86\\ -0.241 1.59\\ -0.238 0.57\\ -0.236 1.13\\ -0.234 0.31\\ -0.232 0.97\\
-0.230 1.37\\ -0.227 0.69\\ -0.225 1.73\\ -0.223 1.06\\ -0.221 0.81\\ -0.219 1.31\\ -0.216 0.46\\ -0.214 1.19\\
-0.212 0.92\\ -0.210 1.52\\ -0.208 0.64\\ -0.205 1.09\\ -0.203 1.28\\ -0.201 0.78\\ -0.199 1.88\\ -0.197 0.55\\
-0.194 1.16\\ -0.192 1.00\\
-0.190 1.21\\ -0.188 0.84\\ -0.186 0.47\\ -0.183 1.33\\ -0.181 0.96\\ -0.179 1.61\\ -0.177 0.71\\ -0.175 1.07\\
-0.172 0.58\\ -0.170 1.44\\ -0.168 1.15\\ -0.166 0.88\\ -0.164 1.76\\ -0.161 0.42\\ -0.159 1.02\\ -0.157 1.27\\
-0.155 0.65\\ -0.153 1.39\\ -0.150 0.93\\ -0.148 1.12\\ -0.146 0.52\\ -0.144 1.68\\ -0.142 0.80\\ -0.139 1.23\\
-0.137 0.99\\ -0.135 0.37\\ -0.133 1.50\\ -0.131 1.05\\ -0.128 0.74\\ -0.126 1.32\\ -0.124 0.60\\ -0.122 1.17\\
-0.120 0.90\\ -0.117 1.94\\ -0.115 0.68\\ -0.113 1.10\\ -0.111 1.42\\ -0.109 0.50\\ -0.106 0.95\\ -0.104 1.25\\
-0.102 0.77\\ -0.100 1.55\\ -0.098 1.03\\ -0.095 0.44\\ -0.093 1.35\\ -0.091 0.86\\ -0.089 1.14\\ -0.087 0.63\\
-0.084 1.83\\ -0.082 0.97\\
-0.080 0.88\\ -0.078 1.46\\ -0.076 0.60\\ -0.073 1.13\\ -0.071 0.79\\ -0.069 1.30\\ -0.067 1.01\\ -0.065 0.48\\
-0.062 1.63\\ -0.060 0.92\\ -0.058 1.20\\ -0.056 0.70\\ -0.054 1.38\\ -0.051 0.55\\ -0.049 1.07\\ -0.047 1.78\\
-0.045 0.83\\ -0.043 1.24\\ -0.040 0.40\\ -0.038 1.15\\ -0.036 0.97\\ -0.034 1.51\\ -0.032 0.66\\ -0.029 1.04\\
-0.027 1.34\\ -0.025 0.75\\ -0.023 1.87\\ -0.021 0.53\\ -0.018 1.11\\ -0.016 0.90\\ -0.014 1.43\\ -0.012 0.62\\
-0.010 1.26\\ -0.007 0.34\\ -0.005 1.00\\ -0.003 1.59\\ -0.001 0.81\\ 0.001 1.18\\ 0.004 0.72\\ 0.006 1.40\\
0.008 0.94\\ 0.010 1.06\\ 0.012 0.57\\ 0.015 1.70\\ 0.017 0.85\\ 0.019 1.29\\ 0.021 0.45\\ 0.023 1.09\\
0.026 1.36\\ 0.028 0.76\\
0.030 0.92\\ 0.032 1.37\\ 0.034 0.58\\ 0.037 1.12\\ 0.039 0.81\\ 0.041 1.64\\ 0.043 0.44\\ 0.045 1.03\\
0.048 1.28\\ 0.050 0.69\\ 0.052 1.51\\ 0.054 0.97\\ 0.056 0.36\\ 0.059 1.19\\ 0.061 0.77\\ 0.063 1.43\\
0.065 1.08\\ 0.067 0.62\\ 0.070 1.86\\ 0.072 0.88\\ 0.074 1.24\\ 0.076 0.51\\ 0.078 1.33\\ 0.081 0.99\\
0.083 0.73\\ 0.085 1.57\\ 0.087 1.14\\ 0.089 0.41\\ 0.092 0.95\\ 0.094 1.69\\ 0.096 0.66\\ 0.098 1.22\\
0.100 0.84\\ 0.103 1.46\\ 0.105 0.55\\ 0.107 1.06\\ 0.109 1.31\\ 0.111 0.79\\ 0.114 1.74\\ 0.116 0.48\\
0.118 1.16\\ 0.120 0.91\\ 0.122 1.39\\ 0.125 0.63\\ 0.127 1.01\\ 0.129 1.27\\ 0.131 0.86\\ 0.133 0.33\\
0.136 1.53\\ 0.138 1.11\\
0.140 1.05\\ 0.143 0.71\\ 0.146 1.42\\ 0.150 0.53\\ 0.153 1.21\\ 0.156 0.89\\ 0.159 1.67\\ 0.162 0.38\\
0.165 1.13\\ 0.169 0.96\\ 0.172 1.34\\ 0.175 0.61\\ 0.178 1.79\\ 0.181 0.82\\ 0.184 1.09\\ 0.188 0.47\\
0.191 1.26\\ 0.194 1.48\\ 0.197 0.75\\ 0.200 0.99\\ 0.203 1.58\\ 0.207 0.57\\ 0.210 1.17\\ 0.213 0.87\\
0.216 1.36\\ 0.219 0.43\\ 0.222 1.02\\ 0.226 1.91\\ 0.229 0.68\\ 0.232 1.23\\ 0.235 0.93\\ 0.238 1.45\\
0.241 0.52\\ 0.245 1.07\\ 0.248 1.29\\ 0.251 0.78\\ 0.254 1.62\\ 0.257 0.35\\ 0.260 1.15\\ 0.264 0.83\\
0.267 1.38\\ 0.270 0.64\\ 0.273 1.04\\ 0.276 1.71\\ 0.279 0.90\\ 0.283 1.25\\ 0.286 0.59\\ 0.289 1.49\\
0.292 0.74\\ 0.295 1.10\\
}\polcore

\pgfplotstableread[row sep=\\]{
x y\\
-1.00 1.640\\ -0.75 1.559\\ -0.50 1.483\\ -0.25 1.409\\ 0.00 1.340\\ 0.25 1.274\\ 0.50 1.213\\
0.75 1.154\\ 1.00 1.100\\
}\polfit

\pgfplotsset{
  sbaxis/.style={
    scale only axis,
    width=551pt, height=226pt,
    ymin=0, ymax=8, ytick={0,1,...,8},
    axis background/.style={fill=sbbg},
    axis line style={draw=none},
    grid=major,
    major grid style={white, line width=1pt},
    major tick length=0pt,
    tick style={draw=none},
    /pgf/number format/assume math mode=true,
    tick label style={font=\fontsize{8.8}{10}\selectfont, text=sbtext},
    xticklabel style={inner sep=0pt, yshift=-7pt},
    yticklabel style={inner sep=0pt, xshift=-5pt},
    title style={font=\fontsize{14.7}{17}\selectfont, text=sbtext,
      at={(0.5,1)}, anchor=base, yshift=5.5pt},
    xlabel style={font=\fontsize{13}{15}\selectfont, text=sbtext,
      at={(axis description cs:0.5,0)}, anchor=base, yshift=-27.5pt},
    ylabel style={font=\fontsize{13}{15}\selectfont, text=sbtext,
      at={(axis description cs:0,0.5)}, anchor=base, yshift=16pt},
    legend style={font=\fontsize{13}{15}\selectfont, text=sbtext,
      at={(rel axis cs:0.989,0.978)}, anchor=north east,
      draw=legdraw, fill=sbbg, rounded corners=2.5pt,
      inner xsep=5pt, inner ysep=2pt, row sep=4pt,
      nodes={inner sep=2.5pt},
      /tikz/every even column/.append style={column sep=9pt}},
    legend cell align=left,
  },
  ptstyle/.style={only marks, mark=*, mark size=0.95pt, color=ptgray,
    mark options={draw=ptgray, fill=ptgray}},
  fitstyle/.style={no marks, color=regred, line width=1.1pt, opacity=0.85,
    legend image code/.code={\draw[regred, line width=1.4pt, opacity=0.65] (0pt,0pt) -- (27pt,0pt);}},
  datalegend/.style={legend image code/.code={\fill[ptgray] (13.5pt,0pt) circle (0.95pt);}},
}

\begin{document}
\begin{tikzpicture}[x=1pt,y=1pt]
\path[use as bounding box] (0,0) rectangle (602,-598);
\node[font=\fontsize{19.4}{22}\selectfont, text=sbtext, anchor=base] at (301,-23.5)
  {Effects of Sentiment in Headline for Median Clickrate};

\begin{axis}[sbaxis,
  at={(41pt,-280pt)}, anchor=south west,
  xmin=0, xmax=1,
  xtick={0,0.2,0.4,0.6,0.8,1.0},
  xticklabels={0.0,0.2,0.4,0.6,0.8,1.0},
  title={Effect of Headline Subjectivity on Click Rate},
  xlabel={Headline Subjectivity},
  ylabel={Click Rate},
]
\addplot[ptstyle, forget plot] table {\subjdata};
\addplot[ptstyle, forget plot] table {\subjcore};
\addplot[fitstyle] table {\subjfit};
\addlegendentry{Polynomial regression}
\addlegendimage{datalegend}
\addlegendentry{data}
\end{axis}

\begin{axis}[sbaxis,
  at={(41pt,-565pt)}, anchor=south west,
  xmin=-1, xmax=1,
  xtick={-1,-0.75,-0.5,-0.25,0,0.25,0.5,0.75,1},
  xticklabels={−1.00,−0.75,−0.50,−0.25,0.00,0.25,0.50,0.75,1.00},
  title={Effect of Headline Polarity on Click Rate},
  xlabel={Headline Polarity},
  ylabel={Click Rate},
]
\addplot[ptstyle, forget plot] table {\poldata};
\addplot[ptstyle, forget plot] table {\polcore};
\addplot[fitstyle] table {\polfit};
\addlegendentry{Polynomial regression}
\addlegendimage{datalegend}
\addlegendentry{data}
\end{axis}
\end{tikzpicture}
\end{document}
